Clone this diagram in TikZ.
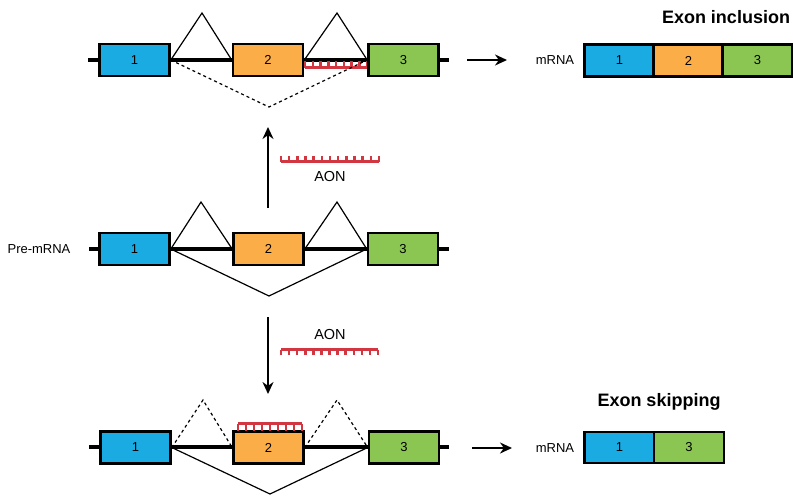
\documentclass[tikz,border=0pt]{standalone}
\usepackage{fontspec}
\setmainfont{Liberation Sans}
\usetikzlibrary{arrows.meta}
\definecolor{exblue}{HTML}{1AABE2}
\definecolor{exorange}{HTML}{FBAD48}
\definecolor{exgreen}{HTML}{8BC653}
\definecolor{aonred}{HTML}{D23640}
\newcommand{\aonmark}[5]{%
  \draw[aonbar] (#1,#3) -- (#2,#3);
  \foreach \i in {0,...,#5} \draw[aontooth] ({#1+(#2-#1)*\i/#5},#3) -- ({#1+(#2-#1)*\i/#5},#4);
}
\tikzset{
  exon/.style={draw=black, line width=2.6pt, minimum width=70pt, minimum height=32pt, inner sep=0pt, font=\fontsize{13}{13}\selectfont},
  rna/.style={line width=3.6pt},
  splice/.style={line width=1.2pt, line join=miter},
  dotsplice/.style={splice, dash pattern=on 3pt off 3pt},
  aonbar/.style={draw=aonred, line width=3.5pt},
  aontooth/.style={draw=aonred, line width=2.5pt},
  flow/.style={line width=2pt, -{Stealth[length=12pt,width=11pt]}},
  lbl/.style={font=\fontsize{13}{13}\selectfont, inner sep=0pt},
  aonlbl/.style={font=\fontsize{14.5}{14.5}\selectfont, inner sep=0pt},
  ttl/.style={font=\bfseries\fontsize{18}{18}\selectfont, inner sep=0pt},
}
\begin{document}
\begin{tikzpicture}[x=1pt,y=-1pt]
\useasboundingbox (0,0) rectangle (793,496);
% ---------- top row (exon inclusion) ----------
\coordinate (ts) at (88,60); \coordinate (te) at (449,60);
\draw[rna] (ts) -- (te);
\aonmark{305}{367}{67.5}{61}{8}
\node[exon, fill=exblue]   (t1) at (134.5,60) {1};
\node[exon, fill=exorange] (t2) at (268,60) {2};
\node[exon, fill=exgreen]  (t3) at (403.5,60) {3};
\coordinate (ta1) at (202,13); \coordinate (ta2) at (337,13); \coordinate (tv) at (269,107);
\draw[splice] (t1.east) -- (ta1) -- (t2.west);
\draw[splice] (t2.east) -- (ta2) -- (t3.west);
\draw[dotsplice] (t1.east) -- (tv) -- (t3.west);
\coordinate (tar1) at (467,60); \coordinate (tar2) at (507,60);
\draw[flow] (tar1) -- (tar2);
\node[lbl] (tm) at (555,60) {mRNA};
\node[exon, fill=exblue]   (m1) at (619.5,60.5) {1};
\node[exon, fill=exorange] (m2) at (688.5,60.5) {2};
\node[exon, fill=exgreen]  (m3) at (757.5,60.5) {3};
\node[ttl] (tinc) at (726,17) {Exon inclusion};
% ---------- middle row (pre-mRNA) ----------
\coordinate (ms) at (89,249); \coordinate (me) at (449,249);
\draw[rna] (ms) -- (me);
\node[exon, fill=exblue]   (p1) at (134.5,249) {1};
\node[exon, fill=exorange] (p2) at (268.5,249) {2};
\node[exon, fill=exgreen]  (p3) at (403,249) {3};
\coordinate (pa1) at (201,202); \coordinate (pa2) at (337,202); \coordinate (pv) at (269,296);
\draw[splice] (p1.east) -- (pa1) -- (p2.west);
\draw[splice] (p2.east) -- (pa2) -- (p3.west);
\draw[splice] (p1.east) -- (pv) -- (p3.west);
\node[lbl] (pre) at (39,249) {Pre-mRNA};
% up arrow + AON
\coordinate (u1) at (268,208); \coordinate (u2) at (268,127);
\draw[flow] (u1) -- (u2);
\aonmark{281}{379}{161.5}{156}{12}
\node[aonlbl] (aon1) at (330,177) {AON};
% down arrow + AON
\coordinate (d1) at (268,317); \coordinate (d2) at (268,394);
\draw[flow] (d1) -- (d2);
\aonmark{281}{378}{349.5}{355}{12}
\node[aonlbl] (aon2) at (330,335) {AON};
% ---------- bottom row (exon skipping) ----------
\coordinate (bs) at (89,447); \coordinate (be) at (449,447);
\draw[rna] (bs) -- (be);
\node[exon, fill=exblue]   (b1) at (135.5,447.5) {1};
\node[exon, fill=exorange] (b2) at (268.5,447.5) {2};
\node[exon, fill=exgreen]  (b3) at (404,447.5) {3};
\aonmark{238}{302}{423.5}{431}{8}
\coordinate (ba1) at (203,400); \coordinate (ba2) at (337,400); \coordinate (bv) at (270,494);
\draw[dotsplice] (b1.east) -- (ba1) -- (b2.west);
\draw[dotsplice] (b2.east) -- (ba2) -- (b3.west);
\draw[splice] (b1.east) -- (bv) -- (b3.west);
\coordinate (bar1) at (472,448); \coordinate (bar2) at (512,448);
\draw[flow] (bar1) -- (bar2);
\node[lbl] (bm) at (555,448) {mRNA};
\node[exon, fill=exblue, minimum height=31pt]  (n1) at (619.5,447.5) {1};
\node[exon, fill=exgreen, minimum height=31pt] (n3) at (689,447.5) {3};
\node[ttl] (bskip) at (659,402) {Exon skipping};
\end{tikzpicture}
\end{document}
